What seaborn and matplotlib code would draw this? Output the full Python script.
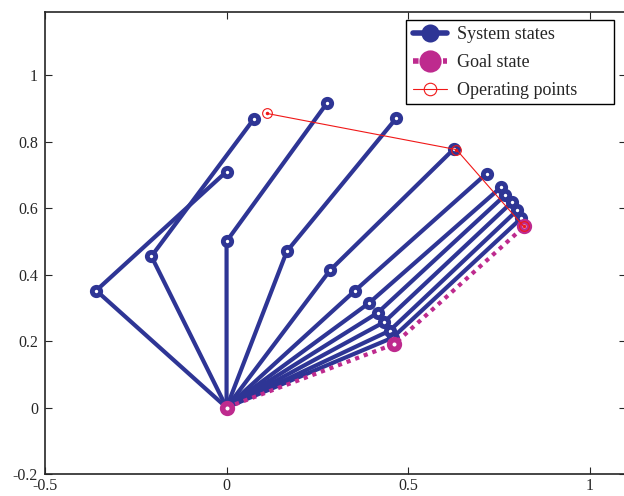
import numpy as np
import pandas as pd
import seaborn as sns
import matplotlib.pyplot as plt
from matplotlib.lines import Line2D
from matplotlib.patches import Rectangle

# two-link arm: base -> elbow -> end, one row per system state
elbow_x = [-0.359, -0.207, 0.0, 0.166, 0.285, 0.354, 0.393, 0.416, 0.434, 0.449, 0.457]
elbow_y = [0.352, 0.455, 0.5, 0.47, 0.413, 0.352, 0.315, 0.285, 0.257, 0.231, 0.21]
end_x = [0.0, 0.075, 0.276, 0.467, 0.627, 0.716, 0.756, 0.768, 0.785, 0.800, 0.812]
end_y = [0.71, 0.868, 0.915, 0.87, 0.779, 0.704, 0.663, 0.640, 0.617, 0.593, 0.570]

goal_x = [0.0, 0.462, 0.820]
goal_y = [0.0, 0.191, 0.545]

op_x = [0.110, 0.633, 0.818]
op_y = [0.885, 0.776, 0.545]

blue = '#2E3595'
magenta = '#BE2A8E'
red = '#F01818'

rows = []
for i in range(len(elbow_x)):
    rows.append((i, 0, 0.0, 0.0))
    rows.append((i, 1, elbow_x[i], elbow_y[i]))
    rows.append((i, 2, end_x[i], end_y[i]))
df = pd.DataFrame(rows, columns=['state', 'joint', 'x', 'y'])

sns.set_style('ticks')
plt.rcParams['font.family'] = ['Liberation Serif', 'DejaVu Serif']
plt.rcParams['axes.unicode_minus'] = False

W, H = 624, 496
fig = plt.figure(figsize=(W / 100, H / 100), dpi=100)
ax = fig.add_axes([45 / W, 22 / H, 581 / W, 462 / H])

sns.lineplot(data=df, x='x', y='y', units='state', estimator=None, sort=False,
             color=blue, lw=3, marker='o', ms=6, mew=3.5, mfc='white', mec=blue,
             legend=False, ax=ax)
sns.lineplot(x=goal_x, y=goal_y, sort=False, color=magenta, lw=3, ls=(0, (1, 1.2)),
             marker='o', ms=7, mew=4, mfc='white', mec=magenta, ax=ax)
sns.lineplot(x=op_x, y=op_y, sort=False, color=red, lw=0.8,
             marker='o', ms=7, mew=0.8, mfc='none', mec=red, ax=ax)
ax.plot(op_x, op_y, ls='none', marker='.', ms=3, color=red)

ax.set_xlim(-0.5, 1.1)
ax.set_ylim(-0.2, 1.19)
ax.set_xticks([-0.5, 0, 0.5, 1])
ax.set_xticklabels(['-0.5', '0', '0.5', '1'])
ax.set_yticks([-0.2, 0, 0.2, 0.4, 0.6, 0.8, 1])
ax.set_yticklabels(['-0.2', '0', '0.2', '0.4', '0.6', '0.8', '1'])
ax.tick_params(direction='in', top=True, right=True, labelsize=11.5, length=5, width=0.8)
ax.tick_params(axis='x', pad=3)
ax.tick_params(axis='y', pad=5)
for s in ax.spines.values():
    s.set_linewidth(1.2)
ax.set_xlabel('')
ax.set_ylabel('')

handles = [
    Line2D([], [], color=blue, lw=4, marker='o', ms=9, mew=4, mfc=blue, mec=blue),
    Line2D([], [], color=magenta, lw=4, ls=(0, (1, 0.8)), marker='o', ms=12, mew=4,
           mfc=magenta, mec=magenta),
    Line2D([], [], color=red, lw=0.8, marker='o', ms=9, mew=0.8, mfc='none', mec=red),
]
leg = ax.legend(handles, ['System states', 'Goal state', 'Operating points'],
                loc='upper left', bbox_to_anchor=(413 / W, 1 - 26 / H),
                bbox_transform=fig.transFigure, fontsize=13, frameon=False,
                handlelength=1.9, borderpad=0, labelspacing=0.62, handletextpad=0.55,
                borderaxespad=0)
# MATLAB-style legend box with wide right margin
ax.add_patch(Rectangle((406 / W, 1 - 104 / H), 208 / W, 84 / H, transform=fig.transFigure,
                       fill=True, facecolor='white', edgecolor='black', lw=1.0,
                       zorder=leg.get_zorder() - 0.1, clip_on=False))

fig.savefig('out.png', dpi=100)
